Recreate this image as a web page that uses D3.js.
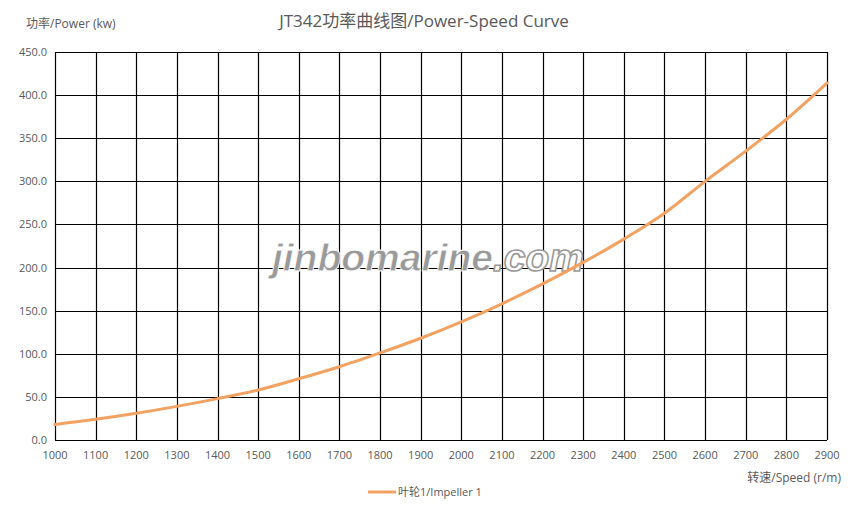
<!DOCTYPE html>
<html><head><meta charset="utf-8">
<script src="https://cdn.jsdelivr.net/npm/d3@7"></script>
<style>body{margin:0;background:#fff;}svg{display:block;}</style>
</head><body><svg id="c" width="852" height="512"></svg>
<script>
const speeds = [1000,1100,1200,1300,1400,1500,1600,1700,1800,1900,2000,2100,2200,2300,2400,2500,2600,2700,2800,2900];
const power = [18,24,31,39,48,58,71,85,101,118,137,158,181,206,233,263,300,335,372,414];
const yTicks = [0,50,100,150,200,250,300,350,400,450];
const seriesName = "叶轮1/Impeller 1";
const title = "JT342功率曲线图/Power-Speed Curve";
const yTitle = "功率/Power (kw)";
const xTitle = "转速/Speed (r/m)";
const watermarkA = "jinbomarine";
const watermarkB = ".com";

const font = "'Open Sans','Noto Sans CJK SC',sans-serif";
const svg = d3.select("#c");
const m = {l:55, r:827, t:52, b:440};
const x = d3.scaleLinear().domain([1000,2900]).range([m.l,m.r]);
const y = d3.scaleLinear().domain([0,450]).range([m.b,m.t]);

const g = svg.append("g");
g.selectAll("line.v").data(speeds).join("line")
 .attr("x1",d=>Math.round(x(d))+0.5).attr("x2",d=>Math.round(x(d))+0.5)
 .attr("y1",y(450)).attr("y2",y(0)).attr("stroke","#000").attr("stroke-width",1.2);
g.selectAll("line.h").data(yTicks).join("line")
 .attr("y1",d=>Math.round(y(d))+0.5).attr("y2",d=>Math.round(y(d))+0.5)
 .attr("x1",x(1000)).attr("x2",x(2900)).attr("stroke","#000").attr("stroke-width",1.2);

// watermark
const wm = svg.append("text").attr("x",428).attr("y",271).attr("text-anchor","middle")
 .attr("font-family","'Liberation Sans',Arial,sans-serif").attr("font-size",39).attr("font-style","italic").attr("font-weight","bold");
wm.append("tspan").attr("fill","#9a9a9a").attr("stroke","#fff").attr("stroke-width",0.8).text(watermarkA);
wm.append("tspan").attr("fill","#fff").attr("stroke","#9a9a9a").attr("stroke-width",1.6).text(watermarkB);

svg.selectAll("text.yt").data(yTicks).join("text")
 .attr("x",47).attr("y",d=>y(d)+4).attr("text-anchor","end")
 .attr("font-family",font).attr("font-size",11).attr("fill","#595959")
 .text(d=>d.toFixed(1));
svg.selectAll("text.xt").data(speeds).join("text")
 .attr("x",d=>x(d)).attr("y",459).attr("text-anchor","middle")
 .attr("font-family",font).attr("font-size",11).attr("fill","#595959")
 .text(d=>d);

const line = d3.line().x((d,i)=>x(speeds[i])).y(d=>y(d)).curve(d3.curveMonotoneX);
svg.append("path").datum(power).attr("d",line).attr("fill","none")
 .attr("stroke","#F2A262").attr("stroke-width",3).attr("stroke-linecap","round");

svg.append("text").attr("x",424).attr("y",27).attr("text-anchor","middle")
 .attr("font-family",font).attr("font-size",17).attr("fill","#595959").text(title);
svg.append("text").attr("x",26).attr("y",28)
 .attr("font-family",font).attr("font-size",12).attr("fill","#595959").text(yTitle);
svg.append("text").attr("x",841).attr("y",482).attr("text-anchor","end")
 .attr("font-family",font).attr("font-size",12).attr("fill","#595959").text(xTitle);

svg.append("line").attr("x1",368).attr("x2",396).attr("y1",492).attr("y2",492)
 .attr("stroke","#F2A262").attr("stroke-width",3);
svg.append("text").attr("x",398).attr("y",496)
 .attr("font-family",font).attr("font-size",11).attr("fill","#595959").text(seriesName);
</script></body></html>
